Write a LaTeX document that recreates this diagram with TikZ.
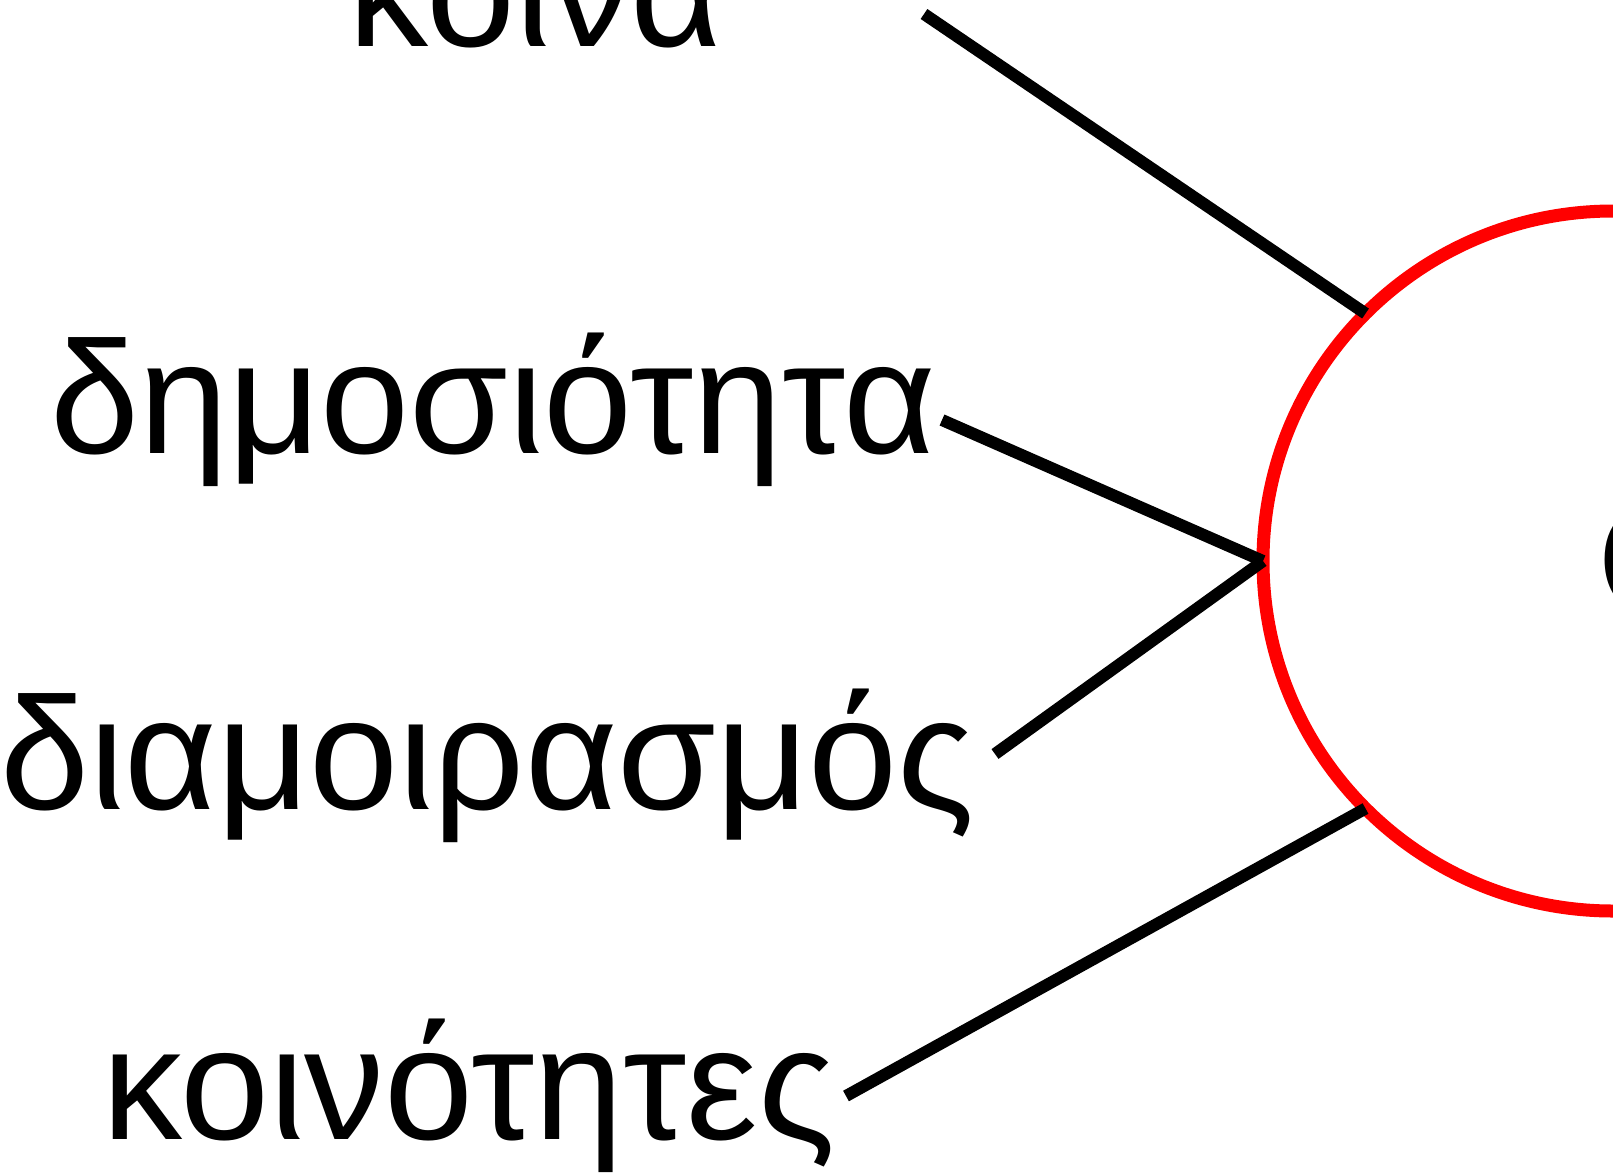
\documentclass[tikz,border=0pt]{standalone}
\usepackage{fontspec}
\setmainfont{Liberation Sans}
\usetikzlibrary{arrows.meta}

\begin{document}
\begin{tikzpicture}[x=1pt,y=1pt,inner sep=0pt,
  word/.style={anchor=base west,font=\fontsize{160}{162}\selectfont},
  link/.style={line width=12pt,line cap=butt}]

\useasboundingbox (0,0) rectangle (1613,-1173);

\node[circle,draw=red,line width=13pt,minimum size=700pt,outer sep=0pt] (hub) at (1613,-561) {};
\node[word] (c0) at (1597,-615) {Ο};

\node[word] (w1) at (348,-46) {κοινά};
\node[word] (w2) at (50,-453) {δημοσιότητα};
\node[word] (w3) at (0,-809) {διαμοιρασμός};
\node[word] (w4) at (102,-1139) {κοινότητες};

\coordinate (e1) at (924,-14);
\coordinate (e2) at (942,-420);
\coordinate (e3) at (995,-754);
\coordinate (e4) at (846,-1096);

\path[link]
	(e1) edge (hub.135) (e2) edge (hub.west)
	(e3) edge (hub.west) (e4) edge (hub.225);

\end{tikzpicture}
\end{document}
